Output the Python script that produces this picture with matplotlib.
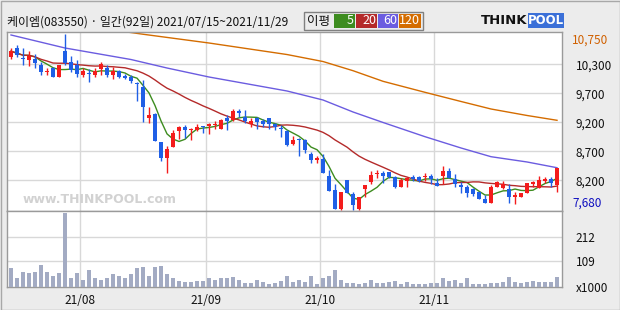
import numpy as np
import pandas as pd
import matplotlib
matplotlib.use('Agg')
import matplotlib.pyplot as plt
from matplotlib.patches import Rectangle
from matplotlib.transforms import blended_transform_factory

plt.rcParams['font.family'] = ['Noto Sans CJK KR', 'DejaVu Sans']

# daily candles 2021/07/15 ~ 2021/11/29 (92 trading days)
opens = [10350, 10500, 10320, 10300, 10310, 10210, 10090, 10150, 10000, 10450,
         10270, 10210, 10030, 10060, 10040, 10140, 10160, 10040, 10110, 10020,
         10000, 9900, 9830, 9290, 9350, 8860, 8590, 8780, 9050, 9130,
         9080, 9080, 9130, 9150, 9160, 9090, 9290, 9250, 9410, 9300,
         9180, 9290, 9240, 9280, 9180, 9100, 9050, 8830, 8920, 8900,
         8660, 8560, 8570, 8270, 8030, 7700, 8200, 7960, 7690, 8050,
         8170, 8300, 8320, 8350, 8250, 8090, 8190, 8260, 8260, 8250,
         8280, 8160, 8280, 8360, 8220, 8100, 8090, 8040, 7990, 7880,
         7800, 8090, 8070, 8040, 7900, 7900, 7970, 8130, 8060, 8190,
         8220, 8120]
highs = [10500, 10560, 10500, 10450, 10400, 10270, 10160, 10170, 10210, 10750,
         10370, 10300, 10160, 10140, 10150, 10270, 10210, 10180, 10120, 10060,
         10030, 9920, 9950, 9480, 9370, 8870, 8800, 9070, 9150, 9160,
         9110, 9180, 9150, 9200, 9240, 9260, 9340, 9440, 9440, 9420,
         9290, 9300, 9270, 9290, 9200, 9160, 9080, 8970, 8930, 8920,
         8700, 8620, 8660, 8380, 8130, 7990, 8200, 7990, 7900, 8120,
         8360, 8370, 8360, 8350, 8280, 8230, 8250, 8290, 8280, 8320,
         8310, 8230, 8440, 8420, 8310, 8170, 8120, 8060, 8000, 7940,
         8120, 8190, 8190, 8130, 8000, 7970, 8150, 8190, 8280, 8260,
         8260, 8420]
lows = [10310, 10350, 10210, 10200, 10160, 10030, 10030, 10000, 10000, 10210,
        10090, 10000, 10000, 9920, 10000, 10030, 10000, 9960, 9980, 9960,
        9900, 9590, 9220, 9200, 8880, 8530, 8330, 8780, 8920, 8940,
        8900, 9050, 9020, 9010, 9090, 9090, 9080, 9240, 9300, 9200,
        9130, 9090, 9130, 9090, 9080, 8960, 8800, 8820, 8620, 8680,
        8500, 8500, 8330, 8010, 7690, 7680, 7970, 7680, 7680, 7900,
        8130, 8240, 8150, 8230, 8060, 8080, 8090, 8190, 8170, 8190,
        8130, 8100, 8130, 8230, 8080, 7970, 7900, 7920, 7870, 7800,
        7800, 8080, 8040, 7800, 7780, 7900, 7970, 8080, 8060, 8150,
        8090, 8000]
closes = [10450, 10380, 10310, 10370, 10250, 10090, 10100, 10000, 10210, 10250,
          10130, 10050, 10110, 10050, 10110, 10220, 10030, 10110, 10000, 9990,
          9930, 9870, 9480, 9340, 8890, 8590, 8740, 9030, 9130, 9080,
          9090, 9130, 9120, 9180, 9170, 9250, 9240, 9410, 9370, 9240,
          9240, 9220, 9180, 9180, 9120, 9090, 8810, 8910, 8900, 8720,
          8550, 8580, 8330, 8020, 7690, 7990, 7980, 7760, 7900, 8120,
          8290, 8310, 8280, 8250, 8090, 8200, 8230, 8220, 8190, 8260,
          8220, 8100, 8360, 8240, 8130, 8090, 7980, 7960, 7880, 7800,
          8090, 8170, 8130, 7900, 7940, 7970, 8150, 8170, 8200, 8220,
          8150, 8420]
# volume, x1000 shares
volumes = [78, 36, 65, 58, 63, 91, 63, 48, 57, 313, 40, 61, 31, 70, 36, 31, 40, 53, 48, 40,
           53, 78, 83, 48, 83, 87, 53, 36, 27, 23, 23, 27, 27, 36, 31, 36, 40, 44, 31, 18,
           18, 31, 23, 14, 18, 27, 48, 23, 31, 23, 48, 14, 36, 48, 70, 31, 18, 18, 14, 18,
           31, 18, 18, 23, 27, 14, 23, 14, 14, 14, 18, 18, 40, 27, 31, 18, 36, 14, 14, 14,
           18, 18, 23, 44, 23, 18, 23, 27, 23, 23, 23, 44]

# long moving averages (need history before the window)
ma60_idx = [0, 9, 20, 26, 33, 46, 52, 57, 62, 69, 75, 80, 86, 91]
ma60_val = [10733, 10506, 10305, 10157, 10000, 9756, 9599, 9390, 9207, 8959, 8762, 8610, 8518, 8418]
ma120_idx = [19, 22, 33, 46, 52, 57, 62, 69, 75, 80, 86, 91]
ma120_val = [10790, 10746, 10593, 10392, 10270, 10110, 9925, 9733, 9573, 9442, 9329, 9245]

month_labels = ['21/08', '21/09', '21/10', '21/11']
month_start_idx = [12, 33, 52, 71]
price_tick_labels = ['8,200', '8,700', '9,200', '9,700', '10,300']
vol_ticks = [109, 212]

title = '케이엠(083550) · 일간(92일) 2021/07/15~2021/11/29'

RED = '#f41c1c'
BLUE = '#1f5fe6'
C5, C20, C60, C120 = '#3d8c1f', '#b42a2a', '#6b5ce0', '#d46c00'
GRID = '#d8d8d8'
SPINE = '#9a9a9a'

o = np.array(opens); h = np.array(highs); l = np.array(lows); c = np.array(closes)
idx = np.arange(len(c))
ma5 = pd.Series(c).rolling(5, min_periods=1).mean()
ma20 = pd.Series(c).rolling(20, min_periods=1).mean()

W, H = 620, 310
fig = plt.figure(figsize=(6.2, 3.1), dpi=100, facecolor='#ececec')
ax = fig.add_axes([7 / W, 1 - 211 / H, 555 / W, 179 / H])
axv = fig.add_axes([7 / W, 1 - 287 / H, 555 / W, 76 / H], sharex=ax)

lo_lim, hi_lim = 7663, 10785
ax.set_ylim(lo_lim, hi_lim)
ax.set_xlim(-0.67, 91.83)
step = (hi_lim - lo_lim) * 29 / 179
grid_vals = [8200 + k * step for k in range(5)]

# moving averages
ax.plot(idx, ma5, color=C5, lw=1, zorder=2)
ax.plot(idx, ma20, color=C20, lw=1, zorder=2)
ax.plot(ma60_idx, ma60_val, color=C60, lw=1, zorder=2)
ax.plot(ma120_idx, ma120_val, color=C120, lw=1, zorder=2)

# candles
cols = np.where(c >= o, RED, BLUE)
ax.vlines(idx, l, h, colors=cols, lw=1, zorder=3)
ax.bar(idx, np.maximum(np.abs(c - o), 18), bottom=np.minimum(o, c), width=0.8,
       color=cols, linewidth=0, zorder=4)

# volume
axv.bar(idx, volumes, width=0.82, color='#a3abc3', linewidth=0, zorder=3)
axv.set_ylim(0, 320)

month_pos = [m - 0.5 for m in month_start_idx]
for a in (ax, axv):
    a.set_facecolor('white')
    for x in month_pos:
        a.axvline(x, color=GRID, lw=1, zorder=1)
    for s in a.spines.values():
        s.set_color(SPINE)
        s.set_linewidth(1)

for y in grid_vals:
    ax.axhline(y, color=GRID, lw=1, zorder=1)
for y in vol_ticks:
    axv.axhline(y, color=GRID, lw=1, zorder=1)

ax.yaxis.tick_right()
ax.set_yticks(grid_vals)
ax.set_yticklabels(price_tick_labels)
ax.tick_params(axis='y', length=0, pad=10, labelsize=8.5, labelcolor='#111111')
ax.tick_params(axis='x', length=0, labelbottom=False)

axv.yaxis.tick_right()
axv.set_yticks([0] + vol_ticks)
axv.set_yticklabels(['x1000'] + [str(v) for v in vol_ticks])
axv.tick_params(axis='y', length=0, pad=10, labelsize=8.5, labelcolor='#111111')
axv.set_xticks(month_pos)
axv.set_xticklabels(month_labels)
axv.tick_params(axis='x', length=0, pad=5, labelsize=8.5, labelcolor='#111111')

# high / low markers on the right
tr = blended_transform_factory(ax.transAxes, ax.transData)
ax.text(1.018, max(highs), f'{max(highs):,}', transform=tr, ha='left', va='top',
        fontsize=8.5, color='#d06000')
ax.text(1.018, min(lows), f'{min(lows):,}', transform=tr, ha='left', va='bottom',
        fontsize=8.5, color='#1010c0')

# watermark
ax.text(0.028, 0.045, 'www.THINKPOOL.com', transform=ax.transAxes, fontsize=9,
        fontweight='bold', color='#d2d2d2', family='DejaVu Sans', zorder=1)

# header
fig.text(7 / W, 1 - 22 / H, title, ha='left', va='center', fontsize=8.6, color='#111111')

fig.patches.append(Rectangle((304 / W, 1 - 30 / H), 119 / W, 18 / H, transform=fig.transFigure,
                             facecolor='#ececec', edgecolor='#808080', lw=1))
fig.text(307 / W, 1 - 21 / H, '이평', ha='left', va='center', fontsize=9, color='#111111')
for x0, w, col, lab in [(334, 21, C5, '5'), (356, 21, C20, '20'), (378, 20, C60, '60'), (399, 22, C120, '120')]:
    fig.patches.append(Rectangle((x0 / W, 1 - 28 / H), w / W, 14 / H, transform=fig.transFigure,
                                 facecolor=col, edgecolor='none'))
    fig.text((x0 + w - 1) / W, 1 - 21 / H, lab, ha='right', va='center', fontsize=9, color='white')

fig.text(481 / W, 1 - 21 / H, 'THINK', ha='left', va='center', fontsize=9.5,
         fontweight='bold', color='#111111', family='DejaVu Sans')
fig.patches.append(Rectangle((528 / W, 1 - 28 / H), 36 / W, 15 / H, transform=fig.transFigure,
                             facecolor='#3b70d8', edgecolor='none'))
fig.text(546 / W, 1 - 21 / H, 'POOL', ha='center', va='center', fontsize=8.5,
         fontweight='bold', color='white', family='DejaVu Sans')

fig.patches.append(Rectangle((0.5 / W, 0.5 / H), 619 / W, 309 / H, transform=fig.transFigure,
                             facecolor='none', edgecolor='#a8a8a8', lw=1))

fig.savefig('out.png', dpi=100, facecolor=fig.get_facecolor())
